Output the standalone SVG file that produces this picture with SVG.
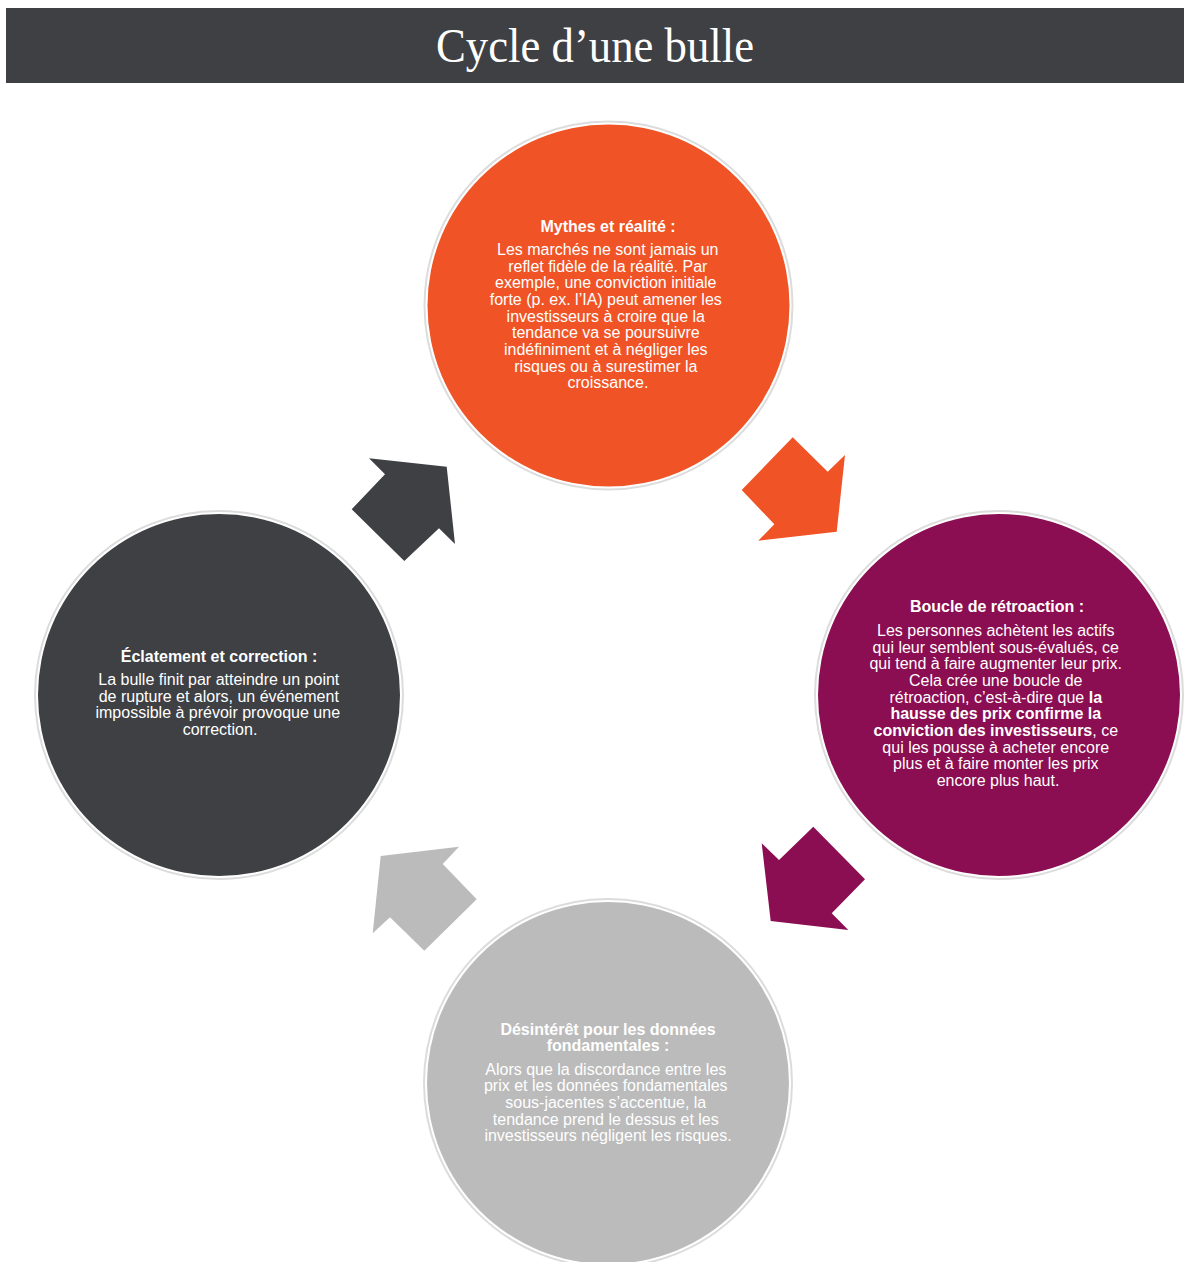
<svg xmlns="http://www.w3.org/2000/svg" width="1184" height="1262" viewBox="0 0 1184 1262">
  <style>
    .ring { stroke: #dcdcdc; stroke-width: 2; }
    .txt { font-family: "Liberation Sans", Arial, sans-serif; font-size: 16px; fill: #ffffff; text-anchor: middle; }
    .hd { font-weight: bold; }
    .title { font-family: "Liberation Serif", "Times New Roman", serif; font-size: 48px; fill: #ffffff; text-anchor: middle; }
  </style>
  <rect x="0" y="0" width="1184" height="1262" fill="#ffffff"/>

  <!-- header bar -->
  <g id="header">
    <rect x="6" y="8" width="1178" height="75" fill="#3e4044"/>
    <text class="title" x="595" y="62" textLength="318" lengthAdjust="spacingAndGlyphs">Cycle d’une bulle</text>
  </g>

  <!-- cycle arrows -->
  <g id="connectors">
    <polygon fill="#f05325" points="792.7,437.3 827.7,471.7 845,455 836.7,531.7 758.3,540.7 774.3,524.3 741.7,490"/>
    <polygon fill="#8b0d52" points="813.3,826.7 865,879.3 831.7,913.3 848.3,930 770.7,921 761.7,843.3 779,860"/>
    <polygon fill="#bbbbbb" points="380.7,856 459,846.7 442.7,864 476.7,899.3 424.3,950.7 390,917.3 372.7,933.3"/>
    <polygon fill="#3e4044" points="369,458.3 446.7,466.7 455,544 439,528.3 404.3,561 351.7,509.3 385,474.3"/>
  </g>

  <g id="node-mythes">
    <circle cx="608.5" cy="305.5" r="184" fill="#ffffff" class="ring"/>
    <circle cx="608.5" cy="305.5" r="181" fill="#f05325"/>
    <text class="txt hd" x="608" y="232">Mythes et réalité :</text>
    <text class="txt">
      <tspan x="610" y="255">Les marchés ne sont jamais un</tspan>
      <tspan x="610" y="272">reflet fidèle de la réalité. Par</tspan>
      <tspan x="608" y="288">exemple, une conviction initiale</tspan>
      <tspan x="608" y="305">forte (p. ex. l’IA) peut amener les</tspan>
      <tspan x="608" y="322">investisseurs à croire que la</tspan>
      <tspan x="608" y="338">tendance va se poursuivre</tspan>
      <tspan x="608" y="355">indéfiniment et à négliger les</tspan>
      <tspan x="608" y="372">risques ou à surestimer la</tspan>
      <tspan x="608" y="388">croissance.</tspan>
    </text>
  </g>

  <g id="node-boucle">
    <circle cx="999" cy="695" r="184" fill="#ffffff" class="ring"/>
    <circle cx="999" cy="695" r="181" fill="#8b0d52"/>
    <text class="txt hd" x="997" y="612">Boucle de rétroaction :</text>
    <text class="txt">
      <tspan x="998" y="636">Les personnes achètent les actifs</tspan>
      <tspan x="998" y="653">qui leur semblent sous-évalués, ce</tspan>
      <tspan x="998" y="669">qui tend à faire augmenter leur prix.</tspan>
      <tspan x="998" y="686">Cela crée une boucle de</tspan>
      <tspan x="998" y="703">rétroaction, c’est-à-dire que <tspan class="hd">la</tspan></tspan>
      <tspan x="998" y="719" class="hd">hausse des prix confirme la</tspan>
      <tspan x="998" y="736"><tspan class="hd">conviction des investisseurs</tspan>, ce</tspan>
      <tspan x="998" y="753">qui les pousse à acheter encore</tspan>
      <tspan x="998" y="769">plus et à faire monter les prix</tspan>
      <tspan x="998" y="786">encore plus haut.</tspan>
    </text>
  </g>

  <g id="node-desinteret">
    <circle cx="608" cy="1083" r="184" fill="#ffffff" class="ring"/>
    <circle cx="608" cy="1083" r="181" fill="#bbbbbb"/>
    <text class="txt hd" x="608" y="1035">Désintérêt pour les données</text>
    <text class="txt hd" x="608" y="1051">fondamentales :</text>
    <text class="txt">
      <tspan x="608" y="1075">Alors que la discordance entre les</tspan>
      <tspan x="608" y="1091">prix et les données fondamentales</tspan>
      <tspan x="608" y="1108">sous-jacentes s’accentue, la</tspan>
      <tspan x="608" y="1125">tendance prend le dessus et les</tspan>
      <tspan x="608" y="1141">investisseurs négligent les risques.</tspan>
    </text>
  </g>

  <g id="node-eclatement">
    <circle cx="219" cy="695" r="184" fill="#ffffff" class="ring"/>
    <circle cx="219" cy="695" r="181" fill="#3e4044"/>
    <text class="txt hd" x="219" y="662">Éclatement et correction :</text>
    <text class="txt">
      <tspan x="221" y="685">La bulle finit par atteindre un point</tspan>
      <tspan x="221" y="702">de rupture et alors, un événement</tspan>
      <tspan x="220" y="718">impossible à prévoir provoque une</tspan>
      <tspan x="220" y="735">correction.</tspan>
    </text>
  </g>
</svg>
